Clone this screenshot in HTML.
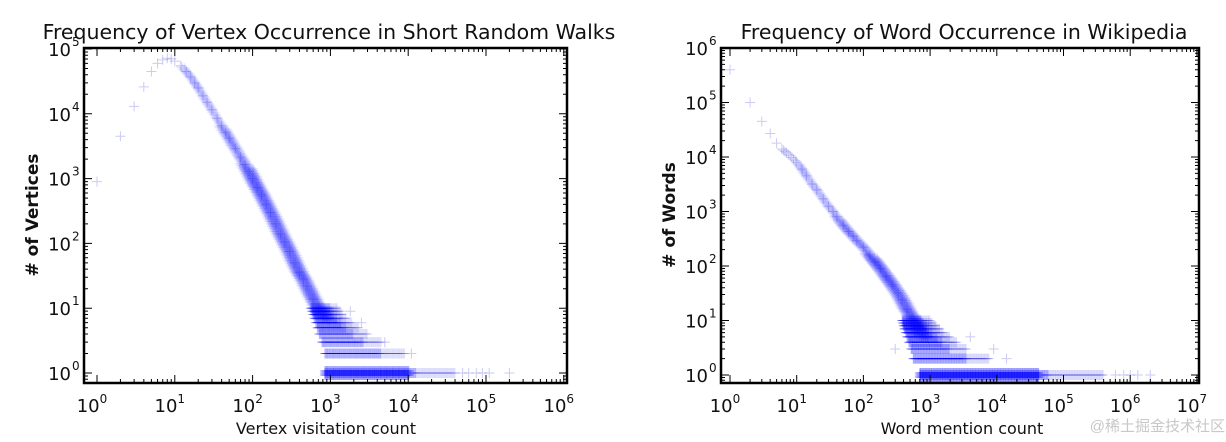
<!DOCTYPE html>
<html><head><meta charset="utf-8"><style>
html,body{margin:0;padding:0;background:#fff;}
svg{display:block;}
text{font-family:"DejaVu Sans","Liberation Sans",sans-serif;fill:#111;}
</style></head><body>
<svg id="svg" width="1226" height="442" viewBox="0 0 1226 442" xmlns="http://www.w3.org/2000/svg">
<g id="c1"></g>
<g id="c2"></g>
<text x="1225" y="431" text-anchor="end" font-size="15" style="fill:#c8c8c8;font-family:'Liberation Sans','Noto Sans CJK SC',sans-serif">@稀土掘金技术社区</text>
</svg>
<script>
// ---- Chart 1: vertex occurrence ----
const vX = [1,2,3,4,5,6,7,8,9,10,12,14,16,18,20,23,26,30,35,40,45,50,60,70,80,90,100,115,130,150,170,200,230,260,300,350,400,450,500,600,700,800];
const vY = [900,4500,13000,26000,45000,60000,68000,72000,70000,65000,55000,45000,37000,30000,25000,19000,15000,11500,8500,6500,5200,4200,2900,2150,1650,1300,1000,730,560,400,300,200,140,105,75,50,36,28,22,14,10,7];
const vSpread = [0,0,0,0,0,0,0,0,0,0,1,1,1,1,1,1,1,1,1,2,2,2,2,2,3,3,3,3,3,3,3,3,3,3,3,3,3,3,3,3,3,3];
const vRowY = [1,2,3,4,5,6,7,8,9,10];
const vRowStart = [850,850,780,720,680,650,620,600,580,560];
const vRowEnd = [40000,9000,4500,3000,2300,1900,1600,1450,1350,1250];
const vSparseX = [50000,60000,75000,90000,110000,200000,11000,5000,2500,1800];
const vSparseY = [1,1,1,1,1,1,2,3,6,9];

// ---- Chart 2: word occurrence ----
const wX = [1,2,3,4,5,6,7,8,10,12,14,17,20,25,30,35,40,50,60,70,80,100,125,150,180,220,270,330,380,450,550,650,750];
const wY = [400000,100000,45000,27000,18000,14000,12000,10500,8000,6000,4500,3200,2500,1700,1250,1000,800,560,430,350,290,220,160,120,90,65,45,32,24,16,11,7.5,5];
const wSpread = [0,0,0,0,0,0,0,0,1,1,1,1,1,1,1,1,2,2,2,2,2,2,3,3,3,3,3,3,3,3,3,3,3];
const wRowY = [1,2,3,4,5,6,7,8,9,10];
const wRowStart = [700,560,520,480,450,430,410,400,390,380];
const wRowEnd = [400000,7800,3500,2500,2000,1600,1400,1250,1100,1000];
const wSparseX = [600000,800000,1000000,1300000,2000000,9000,14000,300,4000];
const wSparseY = [1,1,1,1,1,3,2,3,5];

const NS='http://www.w3.org/2000/svg';
function el(tag, attrs, parent){const e=document.createElementNS(NS,tag);for(const k in attrs)e.setAttribute(k,attrs[k]);parent.appendChild(e);return e;}

function chart(g, cfg){
  const xs = v => cfg.x0 + Math.log10(v)*cfg.xd;
  const ys = v => cfg.y0 - Math.log10(v)*cfg.yd;
  const pts = el('g',{fill:'none','stroke-width':1},g);
  
  
  const cross=(x,y,col)=>{
    const p=el('path',{d:`M${(x-5).toFixed(1)} ${y.toFixed(1)}h10M${x.toFixed(1)} ${(y-5).toFixed(1)}v10`,stroke:col},pts);
    
    
  };
  const light='rgba(70,70,220,0.28)';
  for(let i=0;i<cfg.X.length;i++){
    const x=xs(cfg.X[i]), y=ys(cfg.Y[i]);
    cross(x,y,light);
    if(i+1<cfg.X.length && cfg.S[i]>0){
      const x2=xs(cfg.X[i+1]), y2=ys(cfg.Y[i+1]);
      const n=Math.max(1,Math.ceil(Math.hypot(x2-x,y2-y)/2));
      const a = cfg.S[i]>=3?0.13:(cfg.S[i]==2?0.09:0.07);
      const col=`rgba(0,0,255,${a})`;
      for(let s=1;s<=n;s++){
        const t=s/n, px=x+(x2-x)*t, py=y+(y2-y)*t;
        cross(px,py,col);
        for(let k=1;k<=cfg.S[i];k++){cross(px+k*2.2,py+k*0.8,col);cross(px-k*2.2,py-k*0.8,col);}
      }
    } else if(i+1<cfg.X.length && cfg.X[i]>=cfg.fillFrom){
      const x2=xs(cfg.X[i+1]), y2=ys(cfg.Y[i+1]);
      const n=Math.max(1,Math.ceil(Math.hypot(x2-x,y2-y)/2.5));
      for(let s=1;s<n;s++){const t=s/n;cross(x+(x2-x)*t,y+(y2-y)*t,light);}
    }
  }
  for(let r=0;r<cfg.RY.length;r++){
    const y=ys(cfg.RY[r]);
    const l0=Math.log10(cfg.RS[r]), l1=Math.log10(cfg.RE[r]);
    for(let l=l0; l<=l1; l+=0.011){
      const x=cfg.x0+l*cfg.xd;
      const frac=(l-l0)/(l1-l0);
      cross(x,y, frac>0.7?'rgba(60,60,230,0.14)':'rgba(0,0,255,0.28)');
      if(cfg.RY[r]===1 && frac<0.65){cross(x,y+2,'rgba(0,0,255,0.35)');cross(x,y-2,'rgba(0,0,255,0.3)');}
    }
  }
  for(let i=0;i<cfg.SX.length;i++) cross(xs(cfg.SX[i]), ys(cfg.SY[i]), light);
  const tk=el('g',{stroke:'#000','stroke-width':1},g);
  
  
  let t='';
  for(let e=cfg.xmin;e<=cfg.xmax;e++){
    for(let m=1;m<10;m++){
      const v=Math.log10(m)+e;
      const x=cfg.x0+v*cfg.xd; if(x<cfg.L||x>cfg.R) continue;
      const len=m===1?8:4;
      t+=`M${x} ${cfg.B}v${-len}M${x} ${cfg.T}v${len}`;
    }
  }
  for(let e=0;e<=cfg.ymax;e++){
    for(let m=1;m<10;m++){
      const v=Math.log10(m)+e; const y=cfg.y0-v*cfg.yd; if(y<cfg.T||y>cfg.B) continue;
      const len=m===1?8:4;
      t+=`M${cfg.L} ${y}h${len}M${cfg.R} ${y}h${-len}`;
    }
  }
  for(let m=5;m<10;m++){const y=cfg.y0-(Math.log10(m)-1)*cfg.yd; if(y<cfg.B) t+=`M${cfg.L} ${y}h4M${cfg.R} ${y}h-4`;}
  el('path',{d:t,fill:'none'},tk);
  const fr=el('rect',{x:cfg.L,y:cfg.T,width:cfg.R-cfg.L,height:cfg.B-cfg.T,fill:'none',stroke:'#000','stroke-width':2.5},g);
  
  
  for(let e=cfg.xmin;e<=cfg.xmax;e++){
    const x=cfg.x0+e*cfg.xd;
    const tx=el('text',{x:x-5,y:412,'text-anchor':'middle','font-size':18},g);
    
    
    tx.innerHTML=`10<tspan dy="-9" font-size="12">${e}</tspan>`;
  }
  for(let e=0;e<=cfg.ymax;e++){
    const y=cfg.y0-e*cfg.yd;
    const tx=el('text',{x:cfg.L-13,y:y+7,'text-anchor':'end','font-size':18},g);
    
    
    tx.textContent='10';
    const sp=el('text',{x:cfg.L-12,y:y-3,'text-anchor':'start','font-size':12},g);
    
    
    sp.textContent=e;
  }
  const ti=el('text',{x:cfg.tx,y:39,'text-anchor':'middle','font-size':cfg.tfs},g);
  
  
  ti.textContent=cfg.title;
  const xl=el('text',{x:cfg.xlx,y:434,'text-anchor':'middle','font-size':16},g);
  
  
  xl.textContent=cfg.xlabel;
  const yl=el('text',{x:0,y:0,'text-anchor':'middle','font-size':17,'font-weight':'bold',transform:`translate(${cfg.ylx},${cfg.yly}) rotate(-90)`},g);
  
  
  yl.textContent=cfg.ylabel;
}

chart(document.getElementById('c1'),{x0:97,xd:77.8,y0:373,yd:64.8,L:84,R:567,T:48,B:383,xmin:0,xmax:6,ymax:5,fillFrom:12,
  X:vX,Y:vY,S:vSpread,RY:vRowY,RS:vRowStart,RE:vRowEnd,SX:vSparseX,SY:vSparseY,tfs:20.5,
  title:'Frequency of Vertex Occurrence in Short Random Walks',tx:329,xlabel:'Vertex visitation count',xlx:326,ylabel:'# of Vertices',ylx:38,yly:215});
chart(document.getElementById('c2'),{x0:730,xd:66.7,y0:375,yd:54.5,L:721,R:1199,T:48,B:383,xmin:0,xmax:7,ymax:6,fillFrom:6,
  X:wX,Y:wY,S:wSpread,RY:wRowY,RS:wRowStart,RE:wRowEnd,SX:wSparseX,SY:wSparseY,tfs:20.5,
  title:'Frequency of Word Occurrence in Wikipedia',tx:964,xlabel:'Word mention count',xlx:962,ylabel:'# of Words',ylx:675,yly:215});
</script>
</body></html>
